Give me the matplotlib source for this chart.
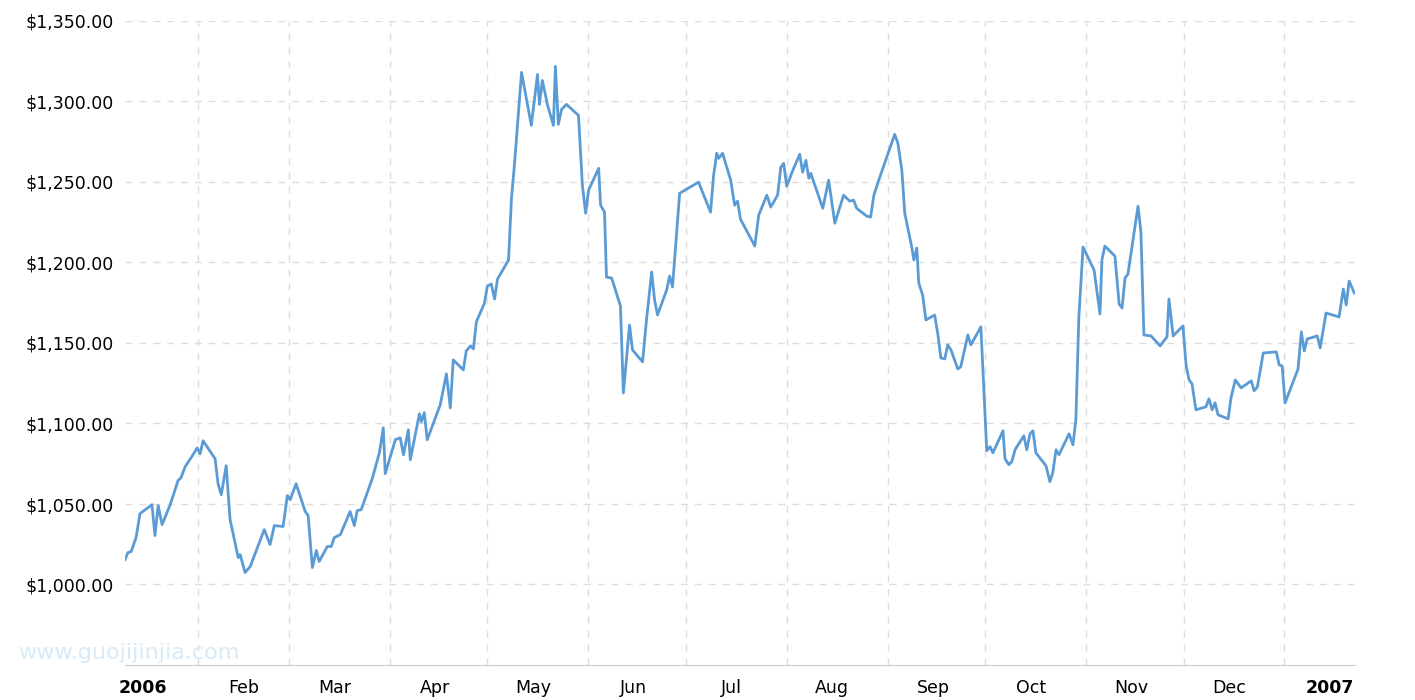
import matplotlib
matplotlib.use("Agg")
import matplotlib.pyplot as plt
import numpy as np
import datetime as dt
import matplotlib.dates as mdates

days = [8.6,9.5,10.5,12.0,13.2,16.9,17.8,18.8,20.0,22.5,24.9,25.8,27.1,29.5,30.8,31.7,32.6,36.3,37.2,38.2,39.7,40.9,43.4,44.0,45.5,47.1,51.4,53.2,54.5,57.2,58.5,59.4,61.2,64.0,64.9,66.2,67.4,68.3,70.8,72.0,72.9,74.8,77.8,79.1,80.0,81.2,84.6,86.8,88.0,88.6,91.7,93.2,94.2,95.7,96.3,99.1,99.7,100.6,101.5,105.5,107.4,108.6,109.5,112.6,113.5,114.8,115.7,116.6,119.1,120.0,121.2,122.2,123.1,126.5,127.4,128.3,130.5,133.5,135.4,136.0,136.9,138.5,140.3,140.9,141.8,142.8,144.3,148.0,149.2,150.2,151.1,154.2,154.8,156.0,156.6,158.2,160.9,161.8,163.7,164.6,167.7,168.9,170.5,171.4,172.3,175.1,176.0,176.9,179.1,184.9,188.6,189.5,190.5,191.1,192.3,194.8,196.0,196.9,197.8,202.2,203.4,205.9,207.1,209.2,210.2,211.1,212.0,213.9,216.0,216.9,217.9,218.8,219.4,223.1,224.9,226.8,229.5,231.4,232.6,233.5,236.6,237.8,238.8,240.3,245.2,246.2,247.4,248.3,250.5,251.1,252.0,252.6,253.8,254.8,257.5,258.5,259.4,260.6,261.5,262.5,264.6,265.5,267.7,268.6,271.7,273.5,274.5,275.4,278.5,279.1,280.3,281.2,282.2,284.9,285.8,286.8,287.7,288.6,291.7,292.9,293.8,294.8,295.7,298.8,300.0,300.9,301.8,303.1,306.5,308.3,308.9,309.8,312.9,314.2,315.1,316.0,316.9,320.0,320.9,321.8,324.0,326.8,328.9,329.5,330.8,333.8,334.8,335.7,336.6,337.8,340.9,341.8,342.8,343.7,344.6,347.7,348.6,349.9,350.8,351.7,354.8,355.7,356.7,358.5,362.5,363.4,364.3,365.2,369.2,370.2,371.1,372.0,375.1,376.0,377.8,381.8,383.1,384.0,384.9,386.5]
prices = [1015.5,1019.8,1020.5,1029.1,1044.0,1049.6,1030.4,1049.0,1037.2,1049.6,1064.5,1066.3,1073.2,1080.6,1084.9,1081.2,1089.3,1078.1,1062.6,1055.8,1073.8,1040.3,1016.7,1018.6,1007.4,1011.2,1034.1,1024.8,1036.6,1036.0,1055.2,1052.7,1062.6,1045.3,1042.8,1010.5,1021.1,1014.3,1023.6,1023.6,1029.1,1031.0,1045.3,1036.6,1045.9,1046.5,1065.7,1081.8,1097.3,1068.8,1089.9,1091.1,1080.6,1096.1,1077.5,1106.0,1101.1,1106.7,1089.9,1111.6,1130.8,1109.7,1139.5,1133.3,1145.1,1148.2,1146.3,1163.1,1174.8,1185.4,1186.6,1177.3,1189.7,1201.5,1240.0,1260.4,1318.1,1285.2,1316.8,1298.2,1313.1,1297.6,1285.2,1321.8,1285.8,1295.1,1298.2,1291.4,1248.0,1230.6,1244.9,1258.5,1235.6,1231.3,1191.0,1190.3,1173.0,1119.0,1161.2,1145.7,1138.3,1164.3,1194.1,1176.7,1167.4,1182.9,1191.6,1184.8,1243.0,1249.9,1231.3,1253.6,1267.8,1264.7,1267.8,1251.1,1235.6,1238.1,1226.9,1210.2,1229.4,1241.8,1234.4,1241.8,1259.2,1261.6,1247.4,1257.3,1267.2,1256.1,1263.5,1252.3,1255.4,1233.7,1251.1,1224.4,1241.8,1238.1,1238.7,1233.7,1228.8,1228.2,1241.8,1251.1,1279.6,1274.0,1257.3,1230.6,1209.0,1201.5,1209.0,1187.2,1179.8,1164.3,1167.4,1155.0,1140.7,1140.1,1148.8,1145.7,1133.9,1135.2,1155.0,1148.8,1160.0,1083.1,1085.6,1081.8,1095.5,1078.1,1074.4,1076.3,1083.7,1092.4,1083.7,1093.6,1095.5,1081.8,1073.8,1063.9,1069.4,1083.7,1080.6,1093.6,1086.8,1102.3,1165.5,1209.6,1195.3,1168.0,1201.5,1210.2,1204.0,1174.2,1171.7,1190.3,1192.8,1235.0,1218.9,1155.0,1154.4,1148.2,1153.8,1177.3,1154.4,1160.6,1135.8,1127.1,1124.6,1108.5,1110.4,1115.3,1108.5,1112.8,1105.4,1102.9,1116.0,1127.1,1124.6,1122.1,1126.5,1120.3,1122.8,1143.8,1144.5,1136.4,1135.8,1112.8,1133.9,1156.9,1145.1,1152.5,1154.4,1147.0,1168.6,1166.2,1183.5,1173.6,1188.5,1181.0]
month_labels = ["2006","Feb","Mar","Apr","May","Jun","Jul","Aug","Sep","Oct","Nov","Dec","2007"]
yticks = [1000,1050,1100,1150,1200,1250,1300,1350]

base = dt.datetime(2006,1,1)
dates = [base + dt.timedelta(days=d) for d in days]

fig = plt.figure(figsize=(14.15,7), dpi=100)
ax = fig.add_axes([125/1415, 0.05, 1230/1415, 0.92])
ax.plot(dates, prices, color="#5b9bd5", lw=2)
ax.set_ylim(950,1350)
ax.set_xlim(base+dt.timedelta(days=8.6), base+dt.timedelta(days=386.7))
ax.set_yticks(yticks)
ax.set_yticklabels([f"${v:,.2f}" for v in yticks], fontsize=12.5)
starts = [dt.datetime(2006,m,1) for m in range(2,13)] + [dt.datetime(2007,1,1)]
ax.set_xticks(starts)
ax.set_xticklabels([])
mids = [dt.datetime(2006,m,15) for m in range(1,13)] + [dt.datetime(2007,1,15)]
ax.set_xticks(mids, minor=True)
ax.set_xticklabels(month_labels, minor=True, fontsize=12.5)
for i, t in enumerate(ax.get_xticklabels(minor=True)):
    if month_labels[i].isdigit():
        t.set_fontweight("bold")
ax.tick_params(axis="both", which="both", length=0, pad=8)
ax.tick_params(axis="x", which="minor", pad=10)
ax.grid(True, axis="y", color="#dddddd", ls=(0,(5,5)), lw=1)
ax.grid(True, axis="x", which="major", color="#dddddd", ls=(0,(5,5)), lw=1)
for s in ["top","right","left"]:
    ax.spines[s].set_visible(False)
ax.spines["bottom"].set_color("#cccccc")
fig.text(18/1415, 1-653/700, "www.guojijinjia.com", color="#d6eaf8", fontsize=16, va="center")
fig.savefig("out.png", dpi=100)
